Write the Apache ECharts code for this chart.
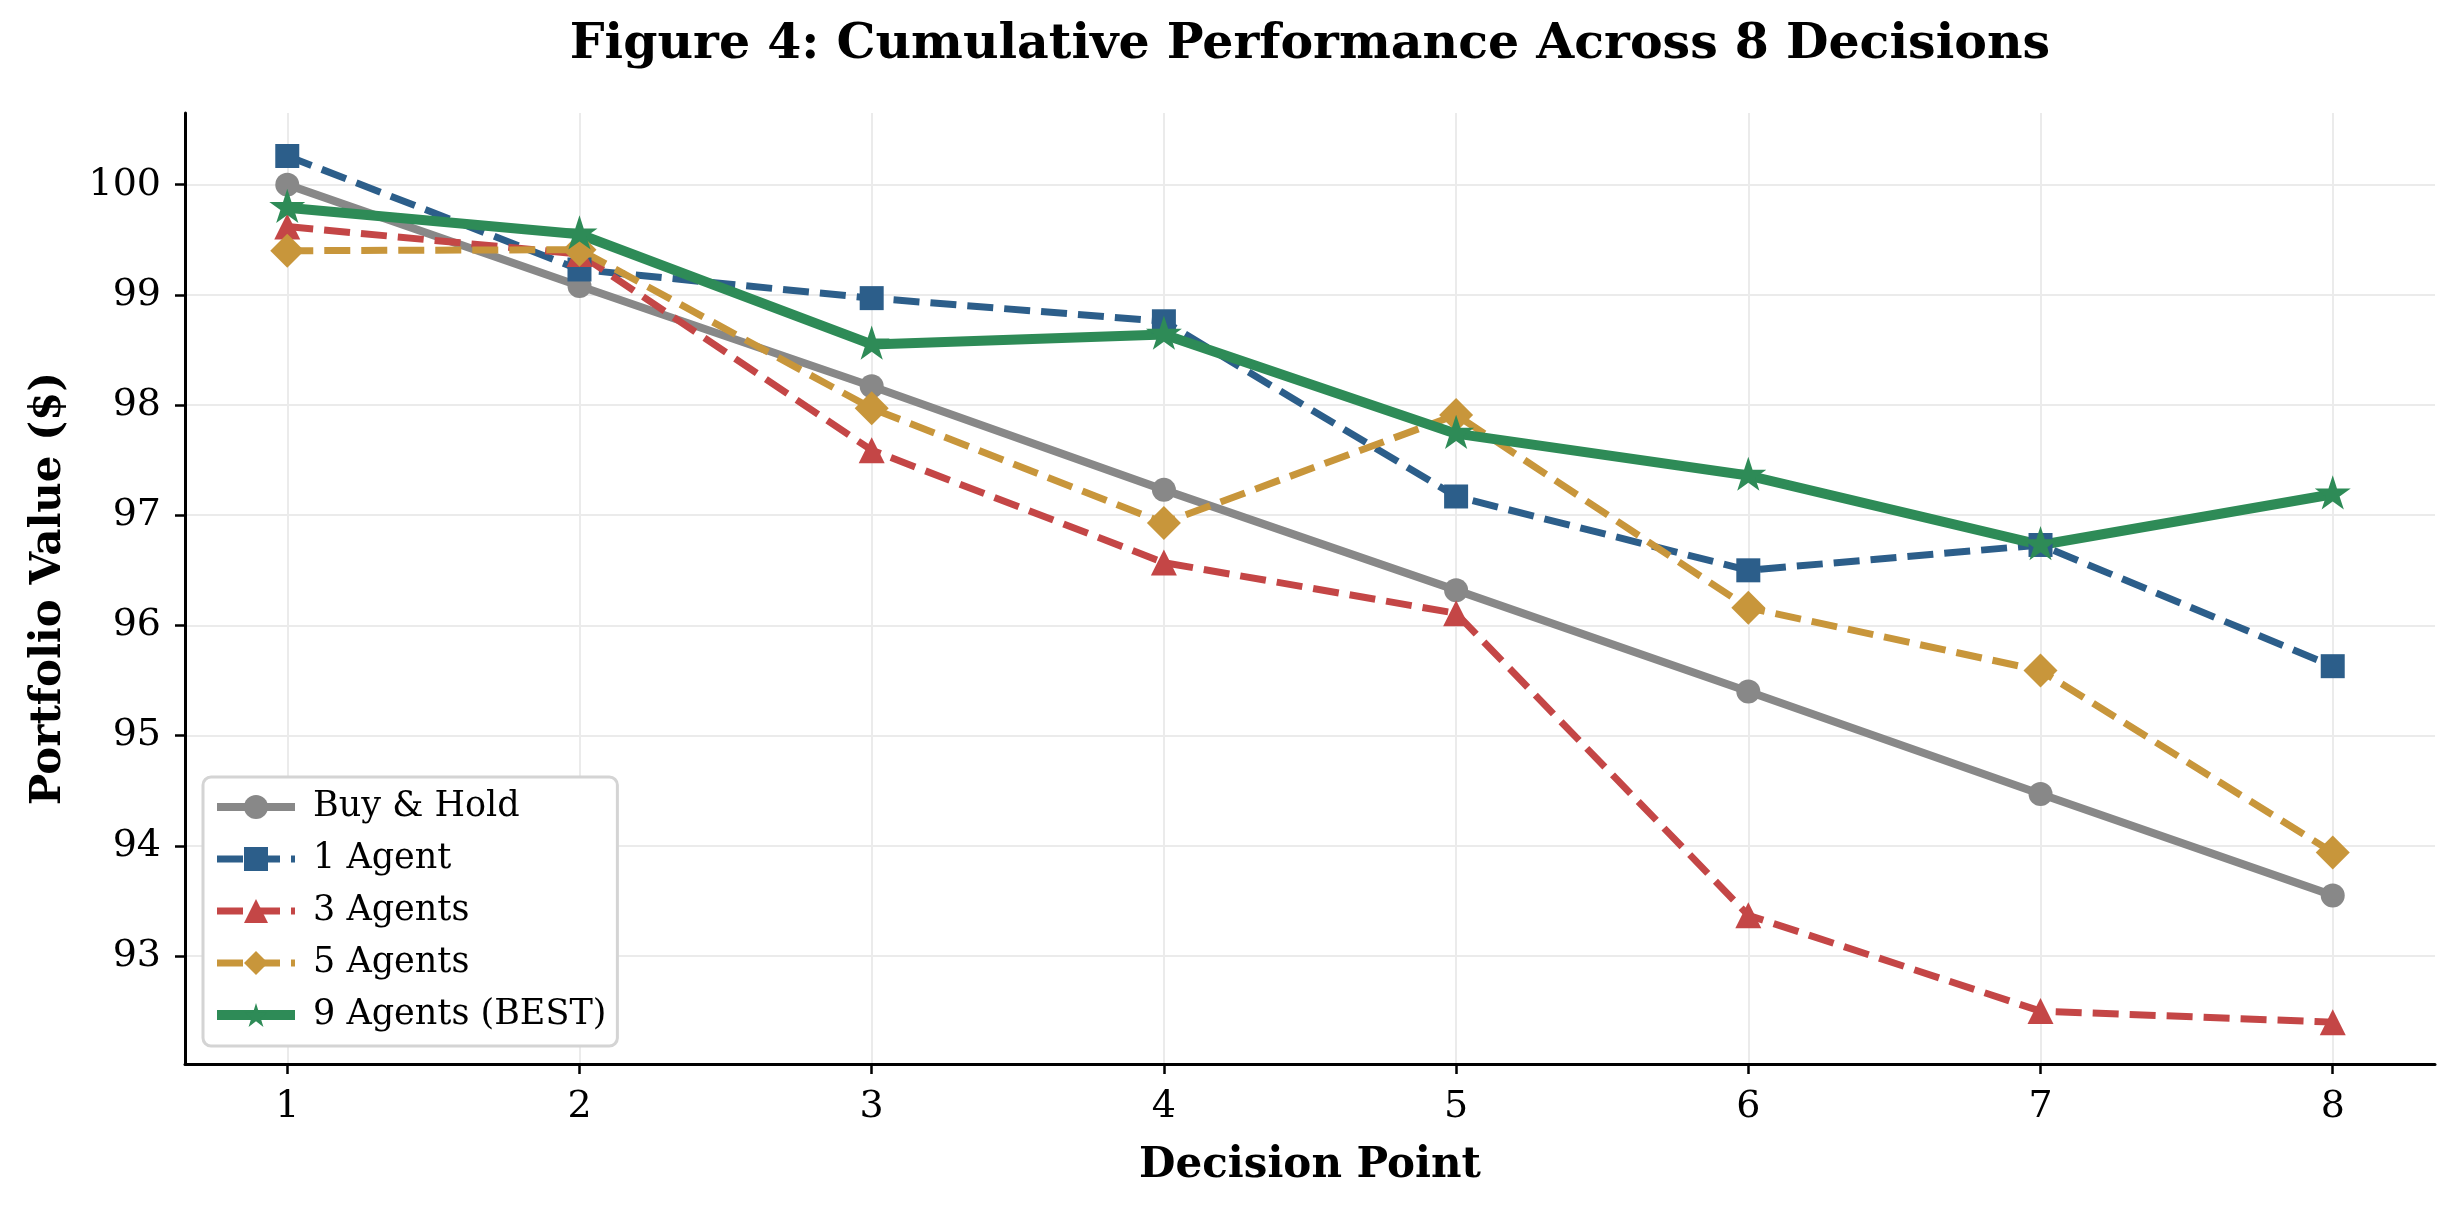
<!DOCTYPE html>
<html>
<head>
<meta charset="utf-8">
<script src="https://cdn.jsdelivr.net/npm/echarts@6/dist/echarts.min.js"></script>
<style>
  html, body { margin: 0; padding: 0; background: #fff; }
  #chart { width: 2459px; height: 1211px; }
</style>
</head>
<body>
<div id="chart"></div>
<script>
// data
const decisions = [1, 2, 3, 4, 5, 6, 7, 8]
const buyHold = [100.0, 99.08, 98.17, 97.23, 96.32, 95.40, 94.47, 93.55]
const agent1 = [100.26, 99.23, 98.97, 98.76, 97.17, 96.50, 96.73, 95.63]
const agents3 = [99.62, 99.37, 97.59, 96.57, 96.11, 93.37, 92.50, 92.40]
const agents5 = [99.40, 99.41, 97.97, 96.93, 97.91, 96.16, 95.59, 93.94]
const agents9 = [99.79, 99.55, 98.55, 98.64, 97.74, 97.36, 96.73, 97.19]
const yTicks = [93, 94, 95, 96, 97, 98, 99, 100]

const FONT = 'DejaVu Serif'

// five point star like matplotlib '*'
function starPath(r, ri) {
  let pts = []
  for (let k = 0; k < 10; k++) {
    const rad = k % 2 === 0 ? r : r * ri
    const a = Math.PI / 2 + (k * Math.PI) / 5
    pts.push((rad * Math.cos(a)).toFixed(3) + ',' + (-rad * Math.sin(a)).toFixed(3))
  }
  return 'path://M' + pts.join('L') + 'Z'
}
const STAR = starPath(10, 0.381966)

const pairs = (vals) => decisions.map((d, i) => [d, vals[i]])

const seriesDefs = [
  { name: 'Buy & Hold', vals: buyHold, color: '#888888', width: 8, type: 'solid', symbol: 'circle', size: 24 },
  { name: '1 Agent', vals: agent1, color: '#2c5e8a', width: 7, type: [26, 11], symbol: 'rect', size: 24 },
  { name: '3 Agents', vals: agents3, color: '#c44646', width: 7, type: [26, 11], symbol: 'triangle', size: 26 },
  { name: '5 Agents', vals: agents5, color: '#c8963b', width: 7, type: [26, 11], symbol: 'diamond', size: 34 },
  { name: '9 Agents (BEST)', vals: agents9, color: '#2e8b57', width: 10, type: 'solid', symbol: STAR, size: 36 },
]

const chart = echarts.init(document.getElementById('chart'), null, { renderer: 'canvas' })

const option = {
  animation: false,
  backgroundColor: '#ffffff',
  title: {
    text: 'Figure 4: Cumulative Performance Across 8 Decisions',
    left: 1310,
    top: 21,
    padding: 0,
    textAlign: 'center',
    textStyle: { fontFamily: FONT, fontWeight: 'bold', fontSize: 49, color: '#000' },
  },
  grid: { left: 185, right: 24, top: 113, bottom: 147 },
  legend: {
    orient: 'vertical',
    left: 203,
    top: 777,
    padding: [12, 11, 13, 9],
    backgroundColor: '#ffffff',
    borderColor: '#d4d4d4',
    borderWidth: 3,
    borderRadius: 8,
    itemWidth: 78,
    itemHeight: 30,
    itemGap: 16,
    textStyle: { fontFamily: FONT, fontSize: 35, color: '#000', lineHeight: 36, padding: [0, 0, 0, 13] },
    data: seriesDefs.map((s) => ({ name: s.name, lineStyle: { width: s.width, type: s.type } })),
  },
  xAxis: {
    type: 'value',
    min: 0.65,
    max: 8.35,
    name: 'Decision Point',
    nameLocation: 'middle',
    nameGap: 81,
    nameTextStyle: { fontFamily: FONT, fontWeight: 'bold', fontSize: 42, color: '#000' },
    axisLine: { show: true, onZero: false, lineStyle: { color: '#000', width: 3 } },
    axisTick: { show: true, customValues: decisions, length: 10, lineStyle: { color: '#000', width: 2.5 } },
    axisLabel: { customValues: decisions, margin: 24, fontFamily: FONT, fontSize: 38, color: '#000' },
    splitLine: { show: true, lineStyle: { color: '#ebebeb', width: 2 } },
  },
  yAxis: {
    type: 'value',
    min: 92.02,
    max: 100.65,
    name: 'Portfolio Value ($)',
    nameLocation: 'middle',
    nameGap: 115,
    nameTextStyle: { fontFamily: FONT, fontWeight: 'bold', fontSize: 42, color: '#000' },
    axisLine: { show: true, onZero: false, lineStyle: { color: '#000', width: 3 } },
    axisTick: { show: true, customValues: yTicks, length: 10, lineStyle: { color: '#000', width: 2.5 } },
    axisLabel: { customValues: yTicks, margin: 24, fontFamily: FONT, fontSize: 38, color: '#000' },
    splitLine: { show: true, lineStyle: { color: '#ebebeb', width: 2 } },
  },
  series: seriesDefs.map((s) => ({
    name: s.name,
    type: 'line',
    data: pairs(s.vals),
    symbol: s.symbol,
    symbolSize: s.size,
    symbolKeepAspect: true,
    symbolOffset: s.symbol === STAR ? [0, -1.8] : [0, 0],
    showSymbol: true,
    showAllSymbol: true,
    clip: false,
    itemStyle: { color: s.color },
    lineStyle: { color: s.color, width: s.width, type: s.type, join: 'round' },
    emphasis: { disabled: true },
  })),
}

chart.setOption(option)
</script>
</body>
</html>
